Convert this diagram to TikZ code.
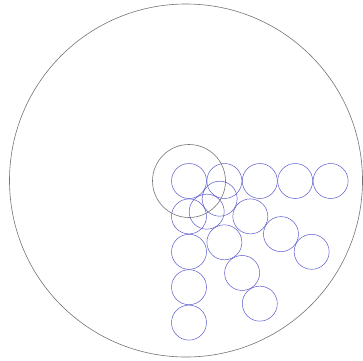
\documentclass[tikz,border=0pt]{standalone}
\definecolor{discblue}{RGB}{90,90,205}

\begin{document}
\begin{tikzpicture}[x=1pt,y=1pt,
  every node/.style={circle, inner sep=0pt},%tous les noeuds sont des cercles
  plate/.style={draw=black!55, line width=0.6pt},
  disc/.style={draw=discblue, line width=0.5pt, minimum size=35pt}]
\useasboundingbox (0,0) rectangle (363,360);

\node[plate, minimum size=353pt] (table) at (186,179.5) {};% grand cercle
\node[disc] (d0) at (189,179) {};
\foreach \a/\n in {0/e,-30/f,-60/g,-90/s}{
  \foreach \k in {1,...,4}{
    \node[disc] (\n\k) at ([shift={(\a:{35.4*\k})}]d0) {};
  }
}
\node[plate, minimum size=73pt] (ring) at (d0) {};% cercle noir

\end{tikzpicture}
\end{document}
